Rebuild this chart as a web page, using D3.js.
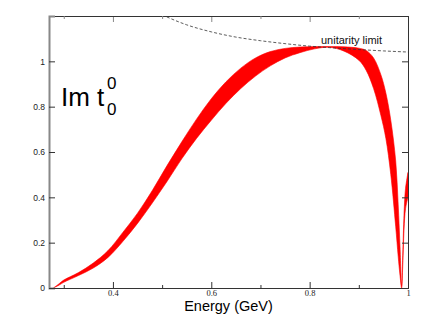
<!DOCTYPE html>
<html>
<head>
<meta charset="utf-8">
<script src="https://cdn.jsdelivr.net/npm/d3@7"></script>
<style>
  body { margin: 0; background: #fff; }
  svg { display: block; }
</style>
</head>
<body>
<div class="chart"></div>
<script>
// values
var energy = [0.279, 0.29, 0.30, 0.33, 0.36, 0.39, 0.42, 0.45, 0.48, 0.51, 0.54, 0.57, 0.60, 0.63, 0.66, 0.69, 0.72, 0.75, 0.78, 0.81, 0.84, 0.87, 0.90, 0.915, 0.93, 0.945, 0.955, 0.965, 0.975, 0.98, 0.984, 0.987, 0.989, 0.992, 0.995, 1.0];
var bandLow = [0, 0.012, 0.025, 0.055, 0.088, 0.135, 0.205, 0.285, 0.375, 0.47, 0.57, 0.66, 0.74, 0.815, 0.88, 0.935, 0.98, 1.015, 1.038, 1.055, 1.062, 1.045, 1.005, 0.96, 0.88, 0.76, 0.66, 0.5, 0.27, 0.14, 0.05, 0, 0.08, 0.26, 0.35, 0.40];
var bandHigh = [0, 0.018, 0.035, 0.068, 0.11, 0.165, 0.245, 0.33, 0.43, 0.54, 0.645, 0.745, 0.835, 0.91, 0.97, 1.015, 1.043, 1.057, 1.063, 1.065, 1.065, 1.064, 1.058, 1.048, 1.015, 0.94, 0.86, 0.74, 0.56, 0.37, 0.17, 0.01, 0.12, 0.33, 0.44, 0.51];

var limitE = [0.50, 0.55, 0.60, 0.65, 0.70, 0.75, 0.80, 0.85, 0.90, 0.95, 1.00];
var limitV = [1.205, 1.161, 1.130, 1.107, 1.091, 1.078, 1.067, 1.059, 1.052, 1.046, 1.041];

var xMajor = [0.4, 0.6, 0.8, 1.0];
var xMinor = [0.3, 0.5, 0.7, 0.9];
var yMajor = [0, 0.2, 0.4, 0.6, 0.8, 1.0];

var width = 423, height = 327;
var m = {left: 49, right: 15, top: 16, bottom: 39};
var pw = width - m.left - m.right, ph = height - m.top - m.bottom;

var svg = d3.select(".chart").append("svg")
  .attr("width", width)
  .attr("height", height);

var x = d3.scaleLinear().domain([0.27, 1.0]).range([m.left, m.left + pw]);
var y = d3.scaleLinear().domain([0, 1.2]).range([m.top + ph, m.top]);

svg.append("clipPath").attr("id", "clip")
  .append("rect")
  .attr("x", m.left).attr("y", m.top)
  .attr("width", pw).attr("height", ph);

var band = energy.map(function (e, i) { return {e: e, lo: bandLow[i], hi: bandHigh[i]}; });

var area = d3.area()
  .curve(d3.curveCatmullRom.alpha(0.5))
  .x(function (d) { return x(d.e); })
  .y0(function (d) { return y(d.lo); })
  .y1(function (d) { return y(d.hi); });

svg.append("path")
  .datum(band)
  .attr("clip-path", "url(#clip)")
  .attr("d", area)
  .attr("fill", "#ff0000")
  .attr("stroke", "#ff0000")
  .attr("stroke-width", 0.6);

var limit = limitE.map(function (e, i) { return {e: e, v: limitV[i]}; });
svg.append("path")
  .datum(limit)
  .attr("clip-path", "url(#clip)")
  .attr("d", d3.line().curve(d3.curveMonotoneX)
    .x(function (d) { return x(d.e); })
    .y(function (d) { return y(d.v); }))
  .attr("fill", "none")
  .attr("stroke", "#333")
  .attr("stroke-width", 0.8)
  .attr("stroke-dasharray", "3,2");

// axes (ticks point inwards, on all four sides)
var axBottom = svg.append("g").attr("transform", "translate(0," + (m.top + ph) + ")")
  .call(d3.axisBottom(x).tickValues(xMajor).tickSize(-6).tickPadding(2)
    .tickFormat(function (d) { return d === 1 ? "1" : d3.format(".1f")(d); }));
axBottom.append("g").call(d3.axisBottom(x).tickValues(xMinor).tickSize(-3).tickFormat(""));

var axTop = svg.append("g").attr("transform", "translate(0," + m.top + ")")
  .call(d3.axisTop(x).tickValues(xMajor).tickSize(-6).tickFormat(""));
axTop.append("g").call(d3.axisTop(x).tickValues(xMinor).tickSize(-3).tickFormat(""));

var axLeft = svg.append("g").attr("transform", "translate(" + m.left + ",0)")
  .call(d3.axisLeft(y).tickValues(yMajor).tickSize(-6).tickPadding(4)
    .tickFormat(function (d) { return d === 0 || d === 1 ? d3.format("d")(d) : d3.format(".1f")(d); }));

var axRight = svg.append("g").attr("transform", "translate(" + (m.left + pw) + ",0)")
  .call(d3.axisRight(y).tickValues(yMajor).tickSize(-6).tickFormat(""));

svg.selectAll(".domain").attr("stroke", "#333").attr("stroke-width", 1);
svg.selectAll(".tick line").attr("stroke", "#333");
axTop.selectAll(".tick line").attr("stroke", "#888");
axLeft.select(".domain").attr("stroke", "#888").attr("stroke-width", 2);

axBottom.selectAll(".tick text")
  .attr("font-family", "'Liberation Serif', 'DejaVu Serif', serif")
  .attr("font-size", 8.5).attr("fill", "#222");
axLeft.selectAll(".tick text")
  .attr("font-family", "'Liberation Sans', Arial, sans-serif")
  .attr("font-size", 8.5).attr("fill", "#222");

svg.append("text")
  .attr("x", m.left + pw / 2)
  .attr("y", 311)
  .attr("text-anchor", "middle")
  .attr("font-family", "'Liberation Sans', Arial, sans-serif")
  .attr("font-size", 14.5)
  .text("Energy (GeV)");

svg.append("text")
  .attr("x", 321)
  .attr("y", 44)
  .attr("font-family", "'Liberation Sans', Arial, sans-serif")
  .attr("font-size", 11)
  .attr("fill", "#111")
  .text("unitarity limit");

var lab = svg.append("text")
  .attr("font-family", "'Liberation Sans', Arial, sans-serif")
  .attr("fill", "#000");
lab.append("tspan").attr("x", 61).attr("y", 106).attr("font-size", 26).text("Im t");
lab.append("tspan").attr("x", 107).attr("y", 89).attr("font-size", 17).text("0");
lab.append("tspan").attr("x", 107).attr("y", 115).attr("font-size", 17).text("0");
</script>
</body>
</html>
